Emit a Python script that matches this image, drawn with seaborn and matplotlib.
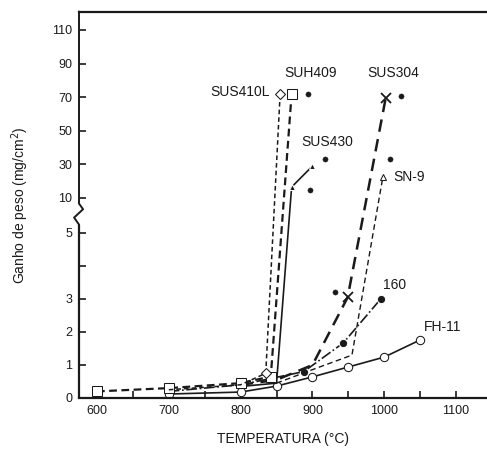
import numpy as np
import pandas as pd
import seaborn as sns
import matplotlib.pyplot as plt

# Datos (temperatura en ºC, ganho de peso en mg/cm2)
fh11_t = [700, 800, 850, 900, 950, 1000, 1050]
fh11_v = [0.12, 0.18, 0.36, 0.64, 0.94, 1.24, 1.76]

s160_t = [700, 800, 888, 943, 995]
s160_v = [0.2, 0.4, 0.8, 1.67, 3.0]

sn9_t = [850, 905, 955, 998]
sn9_v = [0.45, 0.9, 1.3, 22.5]

sus304_t = [800, 850, 900, 949, 1002]
sus304_v = [0.4, 0.55, 1.0, 3.05, 69.5]

sus430_t = [800, 850, 871, 900]
sus430_v = [0.35, 0.45, 16.5, 29]

suh409_t = [600, 700, 800, 842, 871]
suh409_v = [0.2, 0.3, 0.45, 0.65, 72]

sus410l_t = [700, 800, 835, 855]
sus410l_v = [0.25, 0.4, 0.75, 72]

puntos_t = [894, 918, 897, 1023, 1008, 931]
puntos_v = [72, 33, 15, 71, 33, 3.2]

yticks = [0, 1, 2, 3, 4, 5, 10, 30, 50, 70, 90, 110]
ytick_labels = ["0", "1", "2", "3", "", "5", "10", "30", "50", "70", "90", "110"]
xticks = list(range(600, 1101, 50))
xtick_labels = [str(t) if t % 100 == 0 else "" for t in xticks]

sns.set_style("ticks")
plt.rcParams["font.family"] = ["Liberation Sans", "DejaVu Sans"]

# Escala del eje y con corte entre 5 y 10
V = [0, 5, 10, 130]
P = [0, 165, 200, 200 + 120 * 1.68]
fwd = lambda v: np.interp(v, V, P)
inv = lambda p: np.interp(p, P, V)

fig = plt.figure(figsize=(4.87, 4.54), dpi=100)
ax = fig.add_axes([79 / 487, 1 - 398 / 454, 1 - 79 / 487, (398 - 12) / 454])
ax.set_yscale("function", functions=(fwd, inv))

tc = "#1a1a1a"
lw = 1.2

# Curvas
sns.lineplot(x=fh11_t, y=fh11_v, ax=ax, sort=False, color=tc, lw=lw, linestyle="-",
             marker="o", markersize=6, markerfacecolor="white", markeredgecolor=tc)
sns.lineplot(x=s160_t, y=s160_v, ax=ax, sort=False, color=tc, lw=lw, linestyle="-.",
             marker="o", markersize=6, markerfacecolor=tc, markevery=[1, 2, 3, 4])
sns.lineplot(x=sn9_t, y=sn9_v, ax=ax, sort=False, color=tc, lw=1.0, linestyle=(0, (4, 2.5)),
             marker="^", markersize=5, markerfacecolor="white", markeredgecolor=tc, markevery=[3])
sns.lineplot(x=sus304_t, y=sus304_v, ax=ax, sort=False, color=tc, lw=1.8, linestyle=(0, (5, 3)),
             marker="x", markersize=7, markeredgewidth=1.3, markeredgecolor=tc, markevery=[3, 4])
sns.lineplot(x=sus430_t, y=sus430_v, ax=ax, sort=False, color=tc, lw=lw, linestyle="-",
             marker="^", markersize=4, markerfacecolor=tc, markevery=[2, 3])
sns.lineplot(x=suh409_t, y=suh409_v, ax=ax, sort=False, color=tc, lw=1.6, linestyle=(0, (3.5, 2)),
             marker="s", markersize=7, markerfacecolor="white", markeredgecolor=tc)
sns.lineplot(x=sus410l_t, y=sus410l_v, ax=ax, sort=False, color=tc, lw=1.1, linestyle=(0, (3, 2)),
             marker="D", markersize=5, markerfacecolor="white", markeredgecolor=tc, markevery=[2, 3])
sns.scatterplot(x=puntos_t, y=puntos_v, ax=ax, color=tc, s=14, edgecolor=tc, zorder=5)

# Etiquetas de las curvas
fs = 10
ax.text(841, 73, "SUS410L", ha="right", va="center", fontsize=fs, color=tc)
ax.text(897, 84.4, "SUH409", ha="center", va="center", fontsize=fs, color=tc)
ax.text(1012, 84.4, "SUS304", ha="center", va="center", fontsize=fs, color=tc)
ax.text(920, 43.3, "SUS430", ha="center", va="center", fontsize=fs, color=tc)
ax.text(1013, 22.5, "SN-9", ha="left", va="center", fontsize=fs, color=tc)
ax.text(1014, 3.42, "160", ha="center", va="center", fontsize=fs, color=tc)
ax.text(1081, 2.15, "FH-11", ha="center", va="center", fontsize=fs, color=tc)

# Ejes
ax.set_xlim(575, 1143)
ax.set_ylim(0, 120.7)
ax.set_xticks(xticks)
ax.set_xticklabels(xtick_labels)
ax.set_yticks(yticks)
ax.set_yticklabels(ytick_labels)
ax.tick_params(direction="in", length=5, width=1.2, labelsize=9, colors=tc, pad=5)
ax.set_xlabel("TEMPERATURA (°C)", fontsize=10, color=tc, labelpad=11)
ax.set_ylabel("Ganho de peso (mg/cm$^2$)", fontsize=10, color=tc, labelpad=15)

for s in ["top", "bottom"]:
    ax.spines[s].set_linewidth(1.6)
    ax.spines[s].set_color(tc)
ax.spines["right"].set_visible(False)
ax.spines["left"].set_visible(False)

# Eje izquierdo con corte
tr = ax.get_yaxis_transform()
ax.plot([0, 0], [0, 6.2], color=tc, lw=1.6, transform=tr, clip_on=False)
ax.plot([0, -0.012, 0.010, 0, 0], [6.2, 7.2, 8.4, 9.2, 121], color=tc, lw=1.4,
        transform=tr, clip_on=False)

fig.savefig("out.png", dpi=100)
